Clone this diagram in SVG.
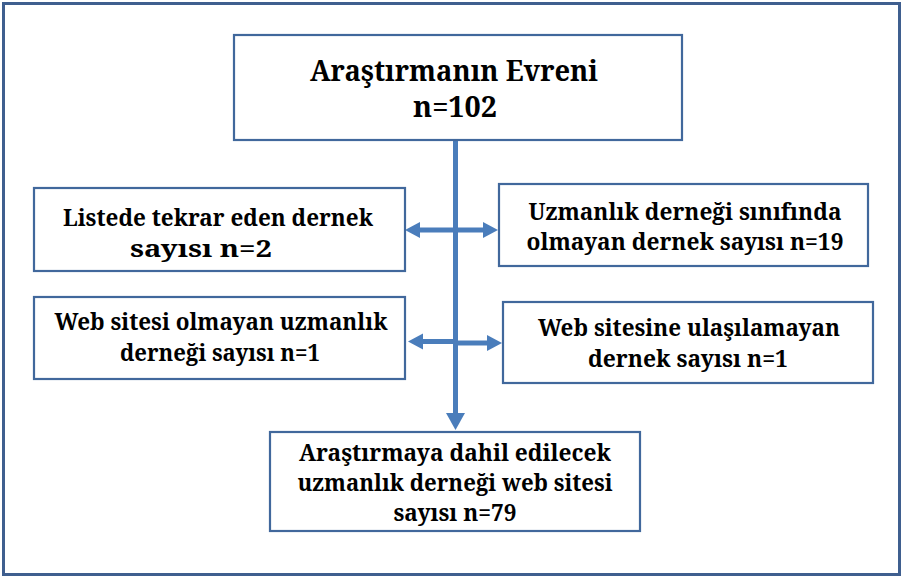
<svg xmlns="http://www.w3.org/2000/svg" width="903" height="578" viewBox="0 0 903 578">
<style>
.box{fill:#fff;stroke:#41689c;stroke-width:2.2}
text{font-family:'Noto Serif','DejaVu Serif',serif;font-weight:bold;fill:#000;text-anchor:middle}
.big{font-size:28px}
.med{font-size:23px}
.conn{stroke:#4a7dbb;stroke-width:5;fill:none}
.head{fill:#4a7dbb}
</style>
<rect x="0" y="0" width="903" height="578" fill="#fff"/>
<rect x="3.5" y="3.5" width="896" height="571" fill="none" stroke="#3f5f8f" stroke-width="3"/>
<g id="connectors">
<line class="conn" x1="455.5" y1="140" x2="455.5" y2="414"/>
<polygon class="head" points="446,413 465,413 455.5,430"/>
<line class="conn" x1="420" y1="230" x2="484" y2="230"/>
<polygon class="head" points="405,230 420,222 420,238"/>
<polygon class="head" points="498,230 483,222 483,238"/>
<line class="conn" x1="423" y1="341.5" x2="455" y2="341.5"/>
<polygon class="head" points="408,341.5 423,333.5 423,349.5"/>
<line class="conn" x1="457" y1="343" x2="488" y2="343"/>
<polygon class="head" points="502,343 487,335 487,351"/>
</g>
<g id="top">
<rect class="box" x="234" y="35" width="448" height="105"/>
<text class="big" x="454" y="81" textLength="288" lengthAdjust="spacingAndGlyphs">Araştırmanın Evreni</text>
<text class="big" x="455" y="117" textLength="84" lengthAdjust="spacingAndGlyphs">n=102</text>
</g>
<g id="left1">
<rect class="box" x="34" y="188" width="371" height="83"/>
<text class="med" x="218" y="226" textLength="310" lengthAdjust="spacingAndGlyphs">Listede tekrar eden dernek</text>
<text class="med" x="201" y="257" textLength="142" lengthAdjust="spacingAndGlyphs">sayısı n=2</text>
</g>
<g id="right1">
<rect class="box" x="499" y="184" width="369" height="82"/>
<text class="med" x="685" y="220" textLength="313" lengthAdjust="spacingAndGlyphs">Uzmanlık derneği sınıfında</text>
<text class="med" x="685" y="250" textLength="317" lengthAdjust="spacingAndGlyphs">olmayan dernek sayısı n=19</text>
</g>
<g id="left2">
<rect class="box" x="34" y="297" width="371" height="82"/>
<text class="med" x="221" y="330" textLength="333" lengthAdjust="spacingAndGlyphs">Web sitesi olmayan uzmanlık</text>
<text class="med" x="220" y="361" textLength="200" lengthAdjust="spacingAndGlyphs">derneği sayısı n=1</text>
</g>
<g id="right2">
<rect class="box" x="503" y="302" width="370" height="81"/>
<text class="med" x="689" y="336" textLength="302" lengthAdjust="spacingAndGlyphs">Web sitesine ulaşılamayan</text>
<text class="med" x="688" y="367" textLength="200" lengthAdjust="spacingAndGlyphs">dernek sayısı n=1</text>
</g>
<g id="bottom">
<rect class="box" x="270" y="432" width="370" height="99"/>
<text class="med" x="455" y="461" textLength="312" lengthAdjust="spacingAndGlyphs">Araştırmaya dahil edilecek</text>
<text class="med" x="455" y="491" textLength="315" lengthAdjust="spacingAndGlyphs">uzmanlık derneği web sitesi</text>
<text class="med" x="455" y="521" textLength="123" lengthAdjust="spacingAndGlyphs">sayısı n=79</text>
</g>
</svg>
